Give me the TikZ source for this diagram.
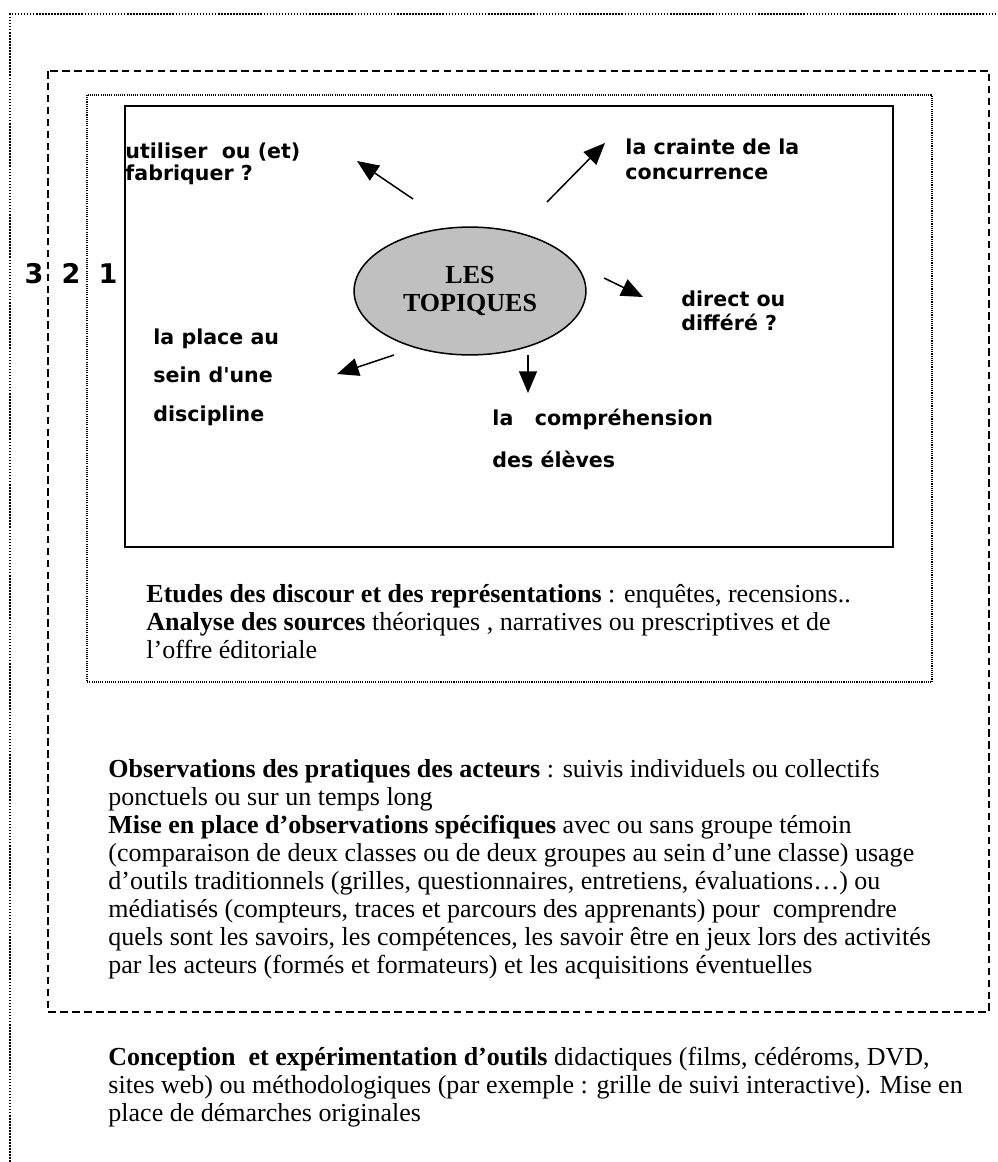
\documentclass[tikz,border=0pt]{standalone}
\usepackage{fontspec}
\setmainfont{Liberation Serif}
\newfontfamily\lblfont{DejaVu Sans}
\usetikzlibrary{arrows.meta,shapes.geometric}
\definecolor{topicgray}{RGB}{192,192,192}
\begin{document}
\begin{tikzpicture}[x=0.4615pt,y=-0.4615pt,
  body/.style={anchor=base west,inner sep=0pt,font=\fontsize{12}{12.9}\selectfont},
  lbl/.style={anchor=base west,inner sep=0pt,font=\lblfont\bfseries\fontsize{9.5}{11.5}\selectfont},
  num/.style={anchor=base,inner sep=0pt,font=\lblfont\bfseries\fontsize{12.5}{14}\selectfont},
  arr/.style={line width=0.7pt,-{Triangle[length=10pt,width=8.3pt]}},
  outerdot/.style={line width=0.9pt,dash pattern=on 0.7pt off 0.7pt},
  innerdot/.style={line width=0.6pt,dash pattern=on 0.5pt off 0.5pt},
  dashbox/.style={line width=0.9pt,dash pattern=on 3.5pt off 2pt},
  solidbox/.style={line width=0.92pt},
]
\useasboundingbox (0,0) rectangle (997,1162);
% frames
\coordinate (oa) at (10,1162);
\coordinate (ob) at (10,14);
\coordinate (oc) at (995,14);
\draw[outerdot] (oa) -- (ob) -- (oc);
\draw[dashbox] (48,71) rectangle (989,1012);
\draw[innerdot] (87,95) rectangle (932,682);
\draw[solidbox] (125,106) rectangle (893,547);
% level numbers
\node[num] (n3) at (34,283) {3};
\node[num] (n2) at (71,283) {2};
\node[num] (n1) at (108,283) {1};
% central node
\node[ellipse,draw,line width=0.7pt,fill=topicgray,minimum width=107pt,minimum height=59pt,inner sep=0pt,align=center,font=\bfseries\fontsize{12}{12.9}\selectfont] (topic) at (470,291) {LES\\TOPIQUES};
% labels
\node[lbl] (l1a) at (125,159) {utiliser\ \ ou (et)};
\node[lbl] (l1b) at (125,181) {fabriquer ?};
\node[lbl] (l2a) at (625,155) {la crainte de la};
\node[lbl] (l2b) at (625,180) {concurrence};
\node[lbl] (l3a) at (681,306) {direct ou};
\node[lbl] (l3b) at (681,330) {différé ?};
\node[lbl] (l4a) at (153,344) {la place au};
\node[lbl] (l4b) at (153,382) {sein d'une};
\node[lbl] (l4c) at (153,421) {discipline};
\node[lbl] (l5a) at (492,425) {la\ \ \ compréhension};
\node[lbl] (l5b) at (492,467) {des élèves};
% arrows
\coordinate (s1) at (413,199); \coordinate (t1) at (357,161);
\coordinate (s2) at (547,202); \coordinate (t2) at (605,143);
\coordinate (s3) at (604,278); \coordinate (t3) at (643,297);
\coordinate (s4) at (394,355); \coordinate (t4) at (337,374);
\coordinate (s5) at (528,355); \coordinate (t5) at (528,393);
\draw[arr] (s1) -- (t1);
\draw[arr] (s2) -- (t2);
\draw[arr] (s3) -- (t3);
\draw[arr] (s4) -- (t4);
\draw[arr] (s5) -- (t5);
% paragraph 1
\node[body] (p1a) at (146,602) {\textbf{Etudes des discour et des représentations} : enquêtes, recensions..};
\node[body] (p1b) at (146,630) {\textbf{Analyse des sources} théoriques , narratives ou prescriptives et de};
\node[body] (p1c) at (146,658) {l’offre éditoriale};
% paragraph 2
\node[body] (p2a) at (108,777) {\textbf{Observations des pratiques des acteurs} : suivis individuels ou collectifs};
\node[body] (p2b) at (108,805) {ponctuels ou sur un temps long};
\node[body] (p2c) at (108,833) {\textbf{Mise en place d’observations spécifiques} avec ou sans groupe témoin};
\node[body] (p2d) at (108,861) {(comparaison de deux classes ou de deux groupes au sein d’une classe) usage};
\node[body] (p2e) at (108,889) {d’outils traditionnels (grilles, questionnaires, entretiens, évaluations…) ou};
\node[body] (p2f) at (108,917) {médiatisés (compteurs, traces et parcours des apprenants) pour\ \ comprendre};
\node[body] (p2g) at (108,945) {quels sont les savoirs, les compétences, les savoir être en jeux lors des activités};
\node[body] (p2h) at (108,973) {par les acteurs (formés et formateurs) et les acquisitions éventuelles};
% paragraph 3
\node[body] (p3a) at (108,1065) {\textbf{Conception\ \ et expérimentation d’outils} didactiques (films, cédéroms, DVD,};
\node[body] (p3b) at (108,1093) {sites web) ou méthodologiques (par exemple : grille de suivi interactive). Mise en};
\node[body] (p3c) at (108,1121) {place de démarches originales};
\end{tikzpicture}
\end{document}
